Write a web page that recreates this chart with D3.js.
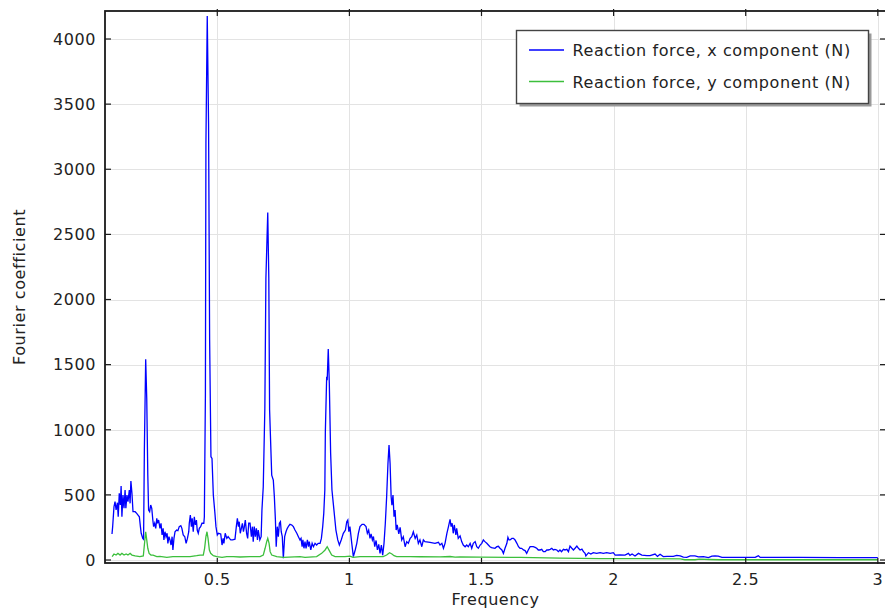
<!DOCTYPE html>
<html>
<head>
<meta charset="utf-8">
<script src="https://cdn.jsdelivr.net/npm/d3@7"></script>
<style>
  html, body { margin: 0; padding: 0; background: #fff; }
  svg text { font-family: "DejaVu Sans", Verdana, sans-serif; font-size: 16px; letter-spacing: 0.6px; fill: #222; }
</style>
</head>
<body>
<svg id="chart" width="885" height="611"></svg>
<script>
// Frequency spectrum of the support reaction forces (Hz vs. |FFT| in N)
const freqX = [
  0.1015,0.104,0.109,0.113,0.117,0.122,0.125,0.129,0.133,0.136,0.139,0.143,0.147,0.151,0.154,0.158,0.162,0.167,0.170,0.173,
  0.177,0.181,0.189,0.195,0.200,0.205,0.209,0.212,0.218,0.221,0.224,0.229,0.233,0.237,0.240,0.244,0.248,0.252,0.256,0.259,
  0.263,0.267,0.271,0.274,0.278,0.283,0.287,0.291,0.295,0.298,0.302,0.306,0.310,0.313,0.317,0.321,0.325,0.329,0.332,0.336,
  0.340,0.346,0.351,0.356,0.362,0.366,0.371,0.377,0.382,0.387,0.392,0.394,0.398,0.402,0.405,0.409,0.413,0.417,0.421,0.424,
  0.428,0.432,0.437,0.442,0.449,0.451,0.455,0.457,0.462,0.467,0.471,0.476,0.480,0.485,0.491,0.495,0.500,0.504,0.513,0.518,
  0.522,0.525,0.530,0.536,0.541,0.546,0.551,0.558,0.567,0.572,0.576,0.580,0.583,0.587,0.591,0.595,0.599,0.602,0.606,0.611,
  0.615,0.619,0.624,0.629,0.633,0.636,0.640,0.644,0.648,0.652,0.655,0.661,0.666,0.669,0.674,0.680,0.684,0.691,0.695,0.698,
  0.706,0.712,0.716,0.720,0.723,0.727,0.731,0.735,0.739,0.742,0.746,0.750,0.755,0.760,0.765,0.770,0.775,0.782,0.788,0.794,
  0.801,0.807,0.813,0.817,0.821,0.824,0.828,0.832,0.836,0.841,0.845,0.848,0.854,0.859,0.864,0.870,0.876,0.882,0.889,0.894,
  0.899,0.903,0.907,0.909,0.914,0.916,0.920,0.924,0.929,0.934,0.939,0.944,0.949,0.956,0.962,0.969,0.977,0.985,0.990,0.994,
  0.998,1.002,1.009,1.015,1.022,1.028,1.034,1.040,1.048,1.055,1.063,1.068,1.073,1.078,1.082,1.087,1.091,1.096,1.101,1.106,
  1.111,1.116,1.121,1.126,1.131,1.136,1.141,1.146,1.150,1.154,1.158,1.161,1.165,1.169,1.173,1.177,1.181,1.187,1.192,1.198,
  1.204,1.211,1.217,1.223,1.230,1.236,1.242,1.249,1.255,1.261,1.267,1.274,1.280,1.286,1.305,1.324,1.337,1.343,1.350,1.356,
  1.362,1.369,1.375,1.381,1.385,1.389,1.393,1.397,1.403,1.406,1.412,1.419,1.425,1.431,1.438,1.444,1.450,1.457,1.463,1.469,
  1.476,1.482,1.488,1.495,1.501,1.507,1.513,1.520,1.526,1.532,1.538,1.551,1.558,1.564,1.570,1.577,1.583,1.589,1.596,1.600,
  1.604,1.608,1.615,1.621,1.627,1.634,1.640,1.646,1.652,1.659,1.665,1.671,1.677,1.684,1.690,1.696,1.703,1.709,1.715,1.722,
  1.728,1.734,1.741,1.747,1.753,1.760,1.766,1.772,1.778,1.785,1.791,1.797,1.803,1.810,1.816,1.823,1.829,1.835,1.842,1.848,
  1.854,1.861,1.867,1.873,1.880,1.886,1.892,1.895,1.905,1.914,1.923,1.936,1.949,1.961,1.974,1.987,1.999,2.006,2.024,2.043,
  2.056,2.062,2.070,2.081,2.094,2.107,2.126,2.138,2.157,2.166,2.176,2.188,2.202,2.226,2.239,2.252,2.264,2.277,2.290,2.308,
  2.321,2.340,2.359,2.372,2.384,2.396,2.410,2.460,2.536,2.543,2.548,2.555,2.706,2.857,3.000
];
const forceX = [
  200,256,409,448,384,440,332,512,422,568,332,499,397,537,397,499,448,537,435,606,
  512,371,371,358,345,332,256,205,166,159,844,1541,1241,652,384,371,422,397,307,256,
  282,243,320,282,307,243,282,192,243,154,217,179,205,128,179,154,115,179,77,166,
  217,230,225,256,264,243,192,179,128,166,217,282,345,256,320,217,332,269,307,230,
  205,243,256,282,282,330,1267,3200,4177,3347,1690,793,780,499,360,256,192,205,200,115,
  166,128,205,166,180,166,154,154,160,256,320,256,294,205,243,282,217,250,307,205,
  166,282,282,179,256,141,256,179,243,154,230,154,179,384,563,1165,2163,2667,2163,1152,
  652,614,486,307,102,256,179,282,294,217,179,13,179,217,243,261,274,269,256,230,
  205,179,154,166,102,154,90,141,90,154,102,141,77,128,102,128,115,128,128,166,
  256,358,537,985,1407,1380,1620,1356,819,537,435,332,230,154,115,154,205,230,294,307,
  217,256,128,26,77,128,205,256,274,274,256,205,230,166,200,154,180,102,150,77,
  120,51,115,38,128,282,486,742,883,742,486,420,499,332,384,230,269,200,250,154,
  179,102,141,128,166,179,217,166,192,128,154,102,154,141,136,128,136,115,128,90,
  128,205,256,312,256,282,205,269,192,243,166,185,141,115,102,115,102,128,90,128,
  141,102,90,115,128,154,141,128,115,102,95,90,102,105,90,77,51,90,128,174,
  154,154,166,166,154,128,102,90,90,77,72,51,77,102,102,102,97,90,77,77,
  82,64,64,77,77,82,90,77,82,77,64,77,64,82,77,82,64,107,90,77,
  90,107,90,77,84,64,51,31,56,46,56,51,56,51,56,51,56,38,40,38,
  51,36,46,31,51,38,33,33,46,28,44,26,28,28,36,32,22,20,31,31,
  24,26,18,30,31,30,20,20,20,28,33,20,20,18,18
];
const freqY = [
  0.102,0.109,0.117,0.124,0.132,0.139,0.147,0.155,0.162,0.170,0.177,0.189,0.207,0.220,0.224,0.229,0.233,0.237,0.242,0.249,
  0.257,0.271,0.283,0.309,0.332,0.359,0.397,0.422,0.435,0.447,0.452,0.457,0.461,0.465,0.470,0.475,0.485,0.498,0.518,0.536,
  0.561,0.586,0.624,0.662,0.674,0.681,0.687,0.691,0.696,0.700,0.706,0.725,0.750,0.813,0.832,0.876,0.895,0.908,0.916,0.924,
  0.933,0.946,0.983,1.002,1.014,1.040,1.128,1.141,1.152,1.161,1.169,1.179,1.230,1.267,1.343,1.381,1.400,1.419,1.495,1.646,
  1.797,1.949,2.100,2.252,2.270,2.308,2.325,2.362,2.402,3.000
];
const forceY = [
  26,46,38,51,38,51,38,46,38,51,38,31,26,31,115,217,154,90,51,38,
  38,26,28,20,26,26,26,33,38,38,90,179,217,166,77,51,33,26,20,26,
  26,23,26,26,38,90,141,166,128,64,38,26,20,26,20,26,51,77,102,72,
  38,26,26,30,20,26,26,38,56,46,33,26,26,25,24,27,22,24,22,20,
  15,10,10,8,2,2,6,4,2,2
];

const xTicks = [0.5, 1, 1.5, 2, 2.5, 3];
const xTickLabels = ["0.5", "1", "1.5", "2", "2.5", "3"];
const yTicks = [0, 500, 1000, 1500, 2000, 2500, 3000, 3500, 4000];
const yTickLabels = ["0", "500", "1000", "1500", "2000", "2500", "3000", "3500", "4000"];
const seriesNames = ["Reaction force, x component (N)", "Reaction force, y component (N)"];
const seriesColors = ["#0000ff", "#3cbf3c"];

const svg = d3.select("#chart");
const L = 105, R = 886, T = 11, B = 563;

const x = d3.scaleLinear().domain([0.075, 3.031]).range([L, R]);
const y = d3.scaleLinear().domain([-23, 4215]).range([B, T]);

// grid
const grid = svg.append("g").attr("stroke", "#e3e3e3").attr("stroke-width", 1);
grid.selectAll("line.gx").data(xTicks).join("line")
  .attr("x1", d => Math.round(x(d)) + 0.5).attr("x2", d => Math.round(x(d)) + 0.5)
  .attr("y1", T).attr("y2", B);
grid.selectAll("line.gy").data(yTicks).join("line")
  .attr("x1", L).attr("x2", R)
  .attr("y1", d => Math.round(y(d)) + 0.5).attr("y2", d => Math.round(y(d)) + 0.5);

// data lines
svg.append("clipPath").attr("id", "plotclip")
  .append("rect").attr("x", L).attr("y", T).attr("width", R - L).attr("height", B - T);

const line = d3.line().x(d => x(d[0])).y(d => y(d[1]));
const seriesData = [
  freqX.map((f, i) => [f, forceX[i]]),
  freqY.map((f, i) => [f, forceY[i]])
];
const lines = svg.append("g").attr("clip-path", "url(#plotclip)");
lines.selectAll("path").data(seriesData).join("path")
  .attr("d", line)
  .attr("fill", "none")
  .attr("stroke", (d, i) => seriesColors[i])
  .attr("stroke-width", 1.3)
  .attr("stroke-linejoin", "miter");

// frame
svg.append("rect").attr("x", L).attr("y", T).attr("width", R - L).attr("height", B - T)
  .attr("fill", "none").attr("stroke", "#1a1a1a").attr("stroke-width", 1.8);

// ticks (inward on all sides)
const ticks = svg.append("g").attr("stroke", "#1a1a1a").attr("stroke-width", 1.2);
ticks.selectAll("line.bx").data(xTicks).join("line")
  .attr("x1", d => x(d)).attr("x2", d => x(d)).attr("y1", B + 1).attr("y2", B - 5);
ticks.selectAll("line.tx").data(xTicks).join("line")
  .attr("x1", d => x(d)).attr("x2", d => x(d)).attr("y1", T - 2).attr("y2", T + 5);
ticks.selectAll("line.ly").data(yTicks).join("line")
  .attr("x1", L).attr("x2", L + 6).attr("y1", d => y(d)).attr("y2", d => y(d));
ticks.selectAll("line.ry").data(yTicks).join("line")
  .attr("x1", R - 6).attr("x2", R).attr("y1", d => y(d)).attr("y2", d => y(d));

// tick labels
svg.append("g").selectAll("text").data(xTicks).join("text")
  .attr("x", d => x(d)).attr("y", 584.5)
  .attr("text-anchor", "middle")
  .text((d, i) => xTickLabels[i]);
svg.append("g").selectAll("text").data(yTicks).join("text")
  .attr("x", 96).attr("y", d => y(d) + 5.8)
  .attr("text-anchor", "end")
  .text((d, i) => yTickLabels[i]);

// axis titles
svg.append("text").attr("x", (x(0.075) + x(3.031)) / 2).attr("y", 604.5)
  .attr("text-anchor", "middle").text("Frequency");
svg.append("text").attr("transform", `translate(24.5,${(T + B) / 2}) rotate(-90)`)
  .attr("text-anchor", "middle").text("Fourier coefficient");

// legend
const lg = svg.append("g").attr("transform", "translate(516.5,30.5)");
lg.append("rect").attr("x", 3).attr("y", 3).attr("width", 352).attr("height", 73).attr("fill", "#9a9a9a");
lg.append("rect").attr("width", 352).attr("height", 73).attr("fill", "#fff")
  .attr("stroke", "#444").attr("stroke-width", 1.4);
seriesNames.forEach((name, i) => {
  const yy = 19.5 + i * 31.5;
  lg.append("line").attr("x1", 12.5).attr("x2", 47.5).attr("y1", yy).attr("y2", yy)
    .attr("stroke", seriesColors[i]).attr("stroke-width", 1.5);
  lg.append("text").attr("x", 56).attr("y", yy + 6).text(name);
});
</script>
</body>
</html>
